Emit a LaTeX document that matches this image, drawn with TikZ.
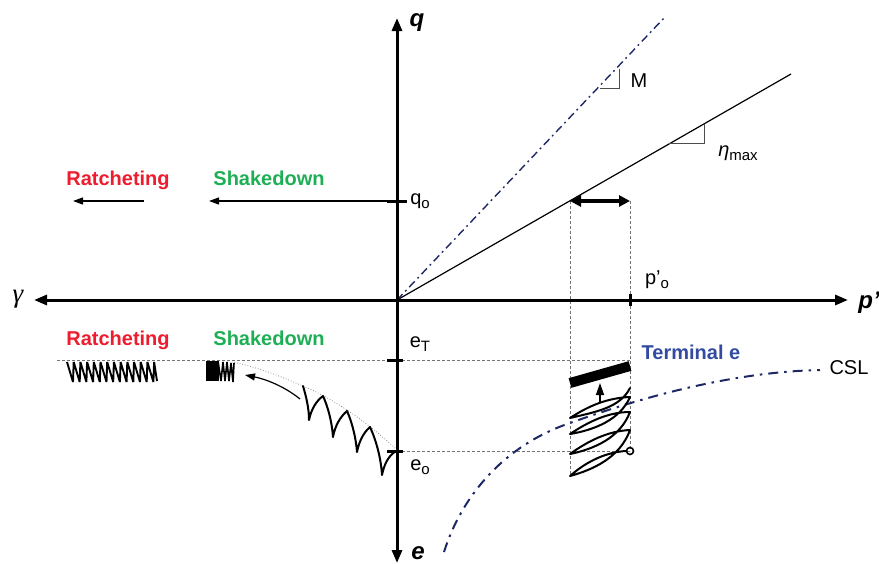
\documentclass[tikz,border=0pt]{standalone}
\usepackage{fontspec}
\setmainfont{Liberation Sans}
\newfontfamily\gamfont{Liberation Serif}
\usetikzlibrary{arrows.meta}
\definecolor{navyd}{RGB}{30,40,100}
\definecolor{rat}{RGB}{237,28,46}
\definecolor{shk}{RGB}{30,175,85}
\definecolor{term}{RGB}{50,75,160}
\newcommand{\subs}[1]{\raisebox{-4pt}{\fontsize{15}{15}\selectfont #1}}
\tikzset{
 axis/.style={line width=3pt,{Triangle[length=13pt,width=10pt]}-{Triangle[length=13pt,width=10pt]}},
 tickm/.style={line width=3pt},
 guide/.style={black!55,line width=0.7pt,dash pattern=on 3pt off 2pt},
 thinl/.style={line width=1.2pt},
 dd/.style={navyd,line width=1.4pt,dash pattern=on 8pt off 4pt on 1.8pt off 4pt},
 ddc/.style={navyd,line width=2pt,dash pattern=on 10pt off 6pt on 2.5pt off 6pt},
 arr/.style={line width=1.2pt,-{Triangle[length=10pt,width=7pt]}},
 cyc/.style={line width=2pt,line join=round,line cap=round},
 tri/.style={line width=1pt,draw=black!70},
 lab/.style={font=\fontsize{20}{22}\selectfont,inner sep=0},
 blab/.style={font=\fontsize{20}{22}\selectfont\bfseries,inner sep=0},
 axl/.style={font=\fontsize{24}{26}\selectfont\bfseries\itshape,inner sep=0},
}
\begin{document}
\begin{tikzpicture}[x=1pt,y=-1pt]
\useasboundingbox (0,0) rectangle (879,563);
\coordinate (O) at (397,300);
\coordinate (xl) at (34,300); \coordinate (xr) at (848,300);
\coordinate (yt) at (397,18); \coordinate (yb) at (397,563);
\coordinate (etaend) at (791,74);
\coordinate (mend) at (664,18);
% guides
\draw[guide] (57,360) -- (630,360);
\draw[guide] (397,451) -- (630,451);
\draw[guide] (570,201) -- (570,476);
\draw[guide] (630,201) -- (630,451);
% lines
\draw[thinl] (O) -- (etaend);
\draw[dd] (O) -- (mend);
\draw[tri] (600,88) -- (619,88) -- (619,69);
\draw[tri] (669,143) -- (704,143) -- (704,124);
% axes
\draw[axis] (xl) -- (xr);
\draw[axis] (yb) -- (yt);
\draw[tickm] (387,201) -- (407,201);
\draw[tickm] (387,360) -- (403,360);
\draw[tickm] (387,451) -- (403,451);
\draw[tickm] (630,294) -- (630,306);
% horizontal arrows
\coordinate (q0) at (397,201);
\coordinate (a1) at (209,201);
\coordinate (b0) at (144,201);
\coordinate (b1) at (73,201);
\draw[arr] (q0) -- (a1);
\draw[arr] (b0) -- (b1);
\coordinate (da) at (570,201); \coordinate (db) at (630,201);
\draw[line width=3.2pt,{Triangle[length=11pt,width=11pt]}-{Triangle[length=11pt,width=11pt]}] (da) -- (db);
% CSL
\draw[ddc] (444,552) .. controls (462,495) and (505,445) .. (570,423)
 .. controls (640,398) and (730,372) .. (820,370);
% terminal bar + loops
\draw[line width=10pt] (570,383) -- (630,366);
\coordinate (u0) at (600,403); \coordinate (u1) at (600,383);
\draw[line width=1.4pt,-{Triangle[length=12pt,width=8pt]}] (u0) -- (u1);
\draw[cyc] (626,451) .. controls (608,452) and (588,460) .. (570,476)
 .. controls (592,470) and (620,458) .. (630,430)
 .. controls (608,431) and (588,441) .. (570,454)
 .. controls (594,449) and (620,438) .. (630,412)
 .. controls (608,412) and (588,422) .. (570,434)
 .. controls (594,430) and (620,420) .. (630,397)
 .. controls (608,398) and (590,405) .. (570,418)
 .. controls (595,412) and (620,408) .. (630,388);
\node[circle,draw,line width=1.6pt,minimum size=7pt,inner sep=0] (c0) at (630,451) {};
% cusps
\draw[black!55,line width=0.7pt,dotted] (397,450) .. controls (372,426) and (335,399) .. (303,386) .. controls (282,377) and (258,367) .. (232,362);
\draw[cyc] (396,451) .. controls (388,456) and (384,465) .. (382,475)
 .. controls (381,458) and (376,440) .. (370,427)
 .. controls (363,433) and (359,442) .. (357,452)
 .. controls (356,438) and (352,422) .. (347,411)
 .. controls (340,417) and (335,426) .. (333,437)
 .. controls (332,422) and (328,407) .. (323,396)
 .. controls (316,401) and (311,410) .. (309,420)
 .. controls (309,408) and (306,396) .. (303,386);
\coordinate (s0) at (300,399); \coordinate (s1) at (245,375);
\draw[arr] (s0) .. controls (284,386) and (265,379) .. (s1);
% springs
\draw[line width=1.9pt,line join=bevel] (67,362)
 \foreach \i in {0,...,12} { -- ({73+\i*6.7},382) -- ({73.7+\i*6.7},362) } -- (157,381);
\fill (206,361) rectangle (219,381);
\draw[line width=1.6pt,line join=bevel] (218,361) -- (221,381) -- (223,362) -- (225,381) -- (227,362) -- (229,381) -- (231,363) -- (233,382) -- (234,363);
% labels
\node[blab,text=rat,anchor=base] (r1) at (118,185) {Ratcheting};
\node[blab,text=shk,anchor=base] (s1t) at (269,185) {Shakedown};
\node[blab,text=rat,anchor=base] (r2) at (118,345) {Ratcheting};
\node[blab,text=shk,anchor=base] (s2t) at (269,345) {Shakedown};
\node[blab,text=term] (te) at (691,352) {Terminal e};
\node[lab] (csl) at (849,368) {CSL};
\node[lab] (lq) at (420,201) {q\subs{o}};
\node[lab] (lp) at (657,280) {p'\subs{o}};
\node[lab] (le) at (420,344) {e\subs{T}};
\node[lab] (l0) at (420,467) {e\subs{o}};
\node[lab] (lm) at (639,81) {M};
\node[lab] (leta) at (738,153) {\itshape η\upshape\subs{max}};
\node[axl] (tq) at (417,23) {q};
\node[axl] (tp) at (869,303) {p'};
\node[axl] (te2) at (418,553) {e};
\node[inner sep=0,font=\gamfont\fontsize{27}{28}\selectfont\itshape] (tg) at (18,299) {γ};
\end{tikzpicture}
\end{document}
